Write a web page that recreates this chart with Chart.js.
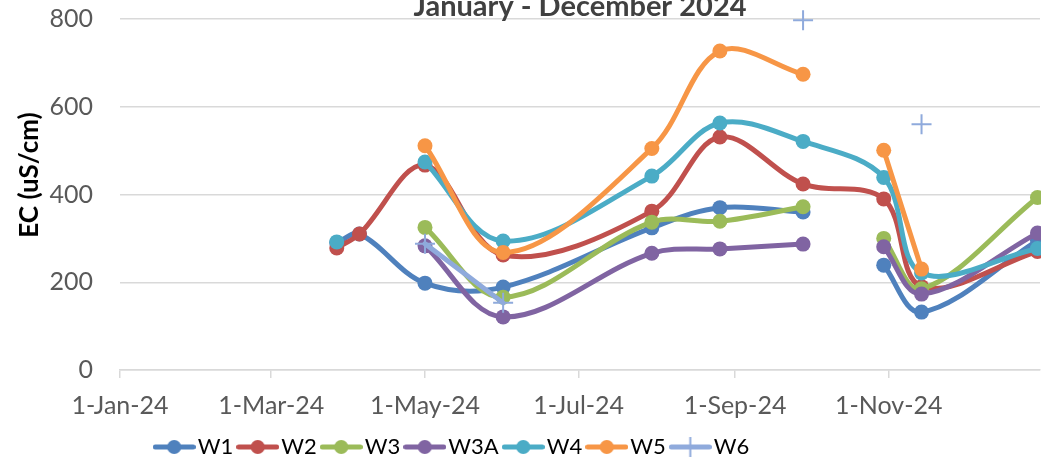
<!DOCTYPE html>
<html>
<head>
<meta charset="utf-8">
<script src="https://cdn.jsdelivr.net/npm/chart.js@4.4.1/dist/chart.umd.min.js"></script>
<style>
  html, body { margin: 0; padding: 0; width: 1041px; height: 463px; overflow: hidden; background: #ffffff; position: relative; }
  #c { position: absolute; left: -133px; top: -24px; }
</style>
</head>
<body>
<canvas id="c" width="1185" height="492"></canvas>
<script>
// ---------------- data ----------------
const chartTitle = 'January - December 2024';
const yAxisTitle = 'EC (uS/cm)';

const sampleDates = ['2024-03-27', '2024-04-05', '2024-05-01', '2024-06-01', '2024-07-30',
                     '2024-08-26', '2024-09-28', '2024-10-30', '2024-11-14', '2024-12-30'];

const seriesNames = ['W1', 'W2', 'W3', 'W3A', 'W4', 'W5', 'W6'];

const W1  = [290, 310, 198, 189, 324, 370, 360, 239, 132, 295];
const W2  = [278, 310, 467, 262, 362, 531, 424, 390, 190, 270];
const W3  = [null, null, 325, 166, 337, 339, 372, 300, 185, 393];
const W3A = [null, null, 283, 121, 266, 276, 287, 281, 173, 312];
const W4  = [292, null, 474, 294, 442, 563, 521, 439, 221, 277];
const W5  = [null, null, 511, 268, 505, 727, 674, 501, 230, null];
const W6  = [null, null, 288, 153, null, null, 797, null, 560, null];

// a sampling round with no reading for these wells (line is broken there)
const gapDate = '2024-10-15';
const seriesBrokenAtGap = ['W1', 'W3', 'W3A', 'W5'];

const axisStart = '2024-01-01';
const axisEnd   = '2024-12-31';
const tickDates  = ['2024-01-01', '2024-03-01', '2024-05-01', '2024-07-01', '2024-09-01', '2024-11-01'];
const tickLabels = ['1-Jan-24', '1-Mar-24', '1-May-24', '1-Jul-24', '1-Sep-24', '1-Nov-24'];

const yMin = 0, yMax = 800, yStep = 200;

// ---------------- styles ----------------
const seriesColors = {
  W1: '#4F81BD', W2: '#C0504D', W3: '#9BBB59', W3A: '#8064A2',
  W4: '#4BACC6', W5: '#F79646', W6: '#8FAADC'
};
const FONT = 'Lato, "Liberation Sans", sans-serif';

// ---------------- helpers ----------------
const valuesByName = { W1, W2, W3, W3A, W4, W5, W6 };
const dayOf = s => (Date.parse(s + 'T00:00:00Z') - Date.parse(axisStart + 'T00:00:00Z')) / 864e5;
const tickDays = tickDates.map(dayOf);

function legendIcon(name) {
  const c = document.createElement('canvas');
  c.width = 43; c.height = 22;
  const g = c.getContext('2d');
  const col = seriesColors[name];
  g.strokeStyle = col; g.fillStyle = col;
  g.lineWidth = 5; g.lineCap = 'round';
  g.beginPath(); g.moveTo(2.5, 11); g.lineTo(40.5, 11); g.stroke();
  if (name === 'W6') {
    g.lineWidth = 2; g.lineCap = 'butt';
    g.beginPath(); g.moveTo(21.5, 1); g.lineTo(21.5, 21); g.moveTo(11.5, 11); g.lineTo(31.5, 11); g.stroke();
  } else {
    g.beginPath(); g.arc(21.5, 11, 7, 0, Math.PI * 2); g.fill();
  }
  return c;
}

function buildDatasets() {
  return seriesNames.map((name, i) => {
    const vals = valuesByName[name];
    let pts = sampleDates.map((d, j) => ({ x: dayOf(d), y: vals[j] }));
    if (seriesBrokenAtGap.includes(name)) {
      pts.push({ x: dayOf(gapDate), y: null });
      pts.sort((a, b) => a.x - b.x);
    }
    const col = seriesColors[name];
    const isCross = name === 'W6';
    return {
      label: name,
      data: pts,
      borderColor: col,
      backgroundColor: col,
      borderWidth: 5,
      tension: 0.35,
      borderCapStyle: 'round',
      borderJoinStyle: 'round',
      pointStyle: isCross ? 'cross' : 'circle',
      pointRadius: isCross ? 10 : 7.5,
      pointBorderWidth: isCross ? 2 : 0,
      pointBorderColor: col,
      pointBackgroundColor: col,
      spanGaps: false,
      clip: false,
      order: seriesNames.length - i
    };
  });
}

function build() {
  new Chart(document.getElementById('c'), {
    type: 'line',
    data: { datasets: buildDatasets() },
    options: {
      responsive: false,
      animation: false,
      devicePixelRatio: 1,
      events: [],
      layout: { padding: { left: 0, right: 8, top: 0, bottom: 0 } },
      plugins: {
        tooltip: { enabled: false },
        title: {
          display: true,
          text: chartTitle,
          fullSize: false,
          color: '#404040',
          font: { family: FONT, size: 29, weight: 'bold', lineHeight: 0.8 },
          padding: { top: 19, bottom: 0.8 }
        },
        legend: {
          display: true,
          position: 'bottom',
          align: 'center',
          labels: {
            usePointStyle: true,
            pointStyleWidth: 25,
            padding: 12,
            color: '#595959',
            font: { family: FONT, size: 22 },
            generateLabels: (chart) => chart.data.datasets.map((ds, i) => ({
              text: ds.label,
              pointStyle: legendIcon(ds.label),
              fillStyle: ds.borderColor,
              strokeStyle: ds.borderColor,
              lineWidth: 0,
              hidden: false,
              datasetIndex: i
            }))
          }
        }
      },
      scales: {
        x: {
          type: 'linear',
          min: dayOf(axisStart),
          max: dayOf(axisEnd),
          afterBuildTicks: (scale) => { scale.ticks = tickDays.map(v => ({ value: v })); },
          afterFit: (scale) => { scale.height = 54; },
          ticks: {
            autoSkip: false,
            maxRotation: 0,
            padding: 13,
            color: '#595959',
            font: { family: FONT, size: 25 },
            callback: (v) => { const k = tickDays.indexOf(v); return k >= 0 ? tickLabels[k] : ''; }
          },
          grid: { display: true, drawOnChartArea: false, drawTicks: true, tickLength: 8, color: '#d9d9d9', lineWidth: 1.5 },
          border: { display: true, color: '#d9d9d9', width: 1.5 }
        },
        y: {
          type: 'linear',
          min: yMin,
          max: yMax,
          afterFit: (scale) => { scale.width = 253; },
          ticks: {
            stepSize: yStep,
            padding: 27,
            color: '#595959',
            font: { family: FONT, size: 25 }
          },
          grid: { color: '#d9d9d9', lineWidth: 1.5, drawTicks: false },
          border: { display: false },
          title: {
            display: true,
            text: '\u2003\u2003' + yAxisTitle,
            color: '#000000',
            font: { family: FONT, size: 26, weight: 'bold' },
            padding: { top: 147, bottom: 0 }
          }
        }
      }
    }
  });
}

Promise.all([
  document.fonts.load('25px Lato'),
  document.fonts.load('bold 29px Lato')
]).then(build, build);
</script>
</body>
</html>
